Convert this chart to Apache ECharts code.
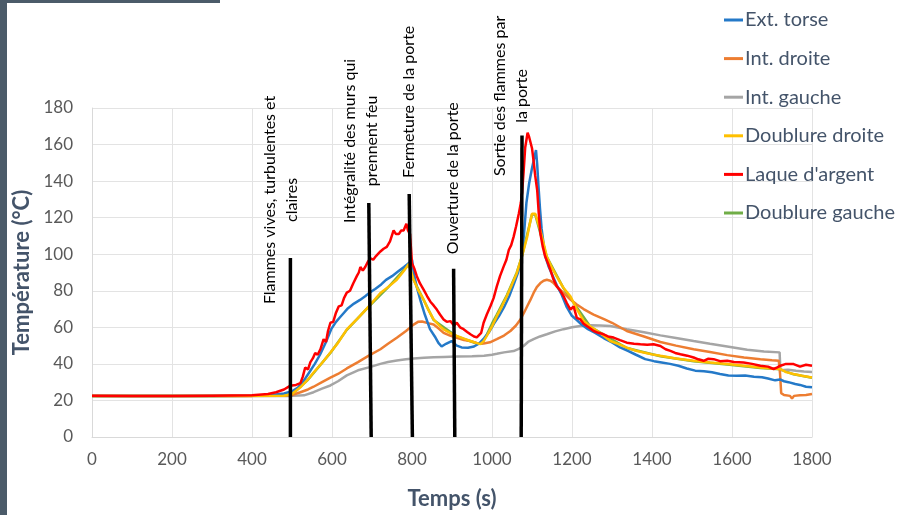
<!DOCTYPE html>
<html><head><meta charset="utf-8">
<script src="https://cdn.jsdelivr.net/npm/echarts@6/dist/echarts.min.js"></script>
<style>html,body{margin:0;padding:0;background:#fff}#c{width:899px;height:515px}</style>
</head><body><div id="c"></div>
<script>
// ---- DATA ----
const seriesNames = ['Ext. torse', 'Int. droite', 'Int. gauche', 'Doublure droite', "Laque d'argent", 'Doublure gauche'];

const extTorse = [[0,22.5],[100,22.4],[200,22.5],[300,22.4],[400,22.6],[450,23],[480,23.8],[500,25],[515,27],[530,31],[545,36],[557,40],[570,45],[585,52],[598,59],[610,63],[620,65.5],[630,68],[640,70.5],[655,73],[670,75],[683,77],[694,79],[708,81],[723,83.5],[735,86],[750,88],[765,90.5],[780,93],[794,95.5],[800,97],[805,89],[812,82],[822,74],[832,67],[845,59],[857,55],[866,51.5],[874,49.5],[885,51],[899,52.5],[912,50],[924,49],[940,48.8],[955,49.5],[967,51],[980,54],[993,57.5],[1005,62],[1017,66],[1030,71],[1043,77],[1055,84],[1065,90],[1074,98],[1080,111],[1086,128],[1093,139],[1100,147],[1106,153],[1110,157],[1113,149],[1116,138],[1120,125],[1124,114],[1133,99],[1142,93],[1150,89],[1162,83],[1174,78],[1187,71],[1199,66.5],[1212,64],[1224,61.5],[1240,59],[1258,57],[1280,54],[1300,51.7],[1320,49],[1341,47],[1360,45],[1383,42.6],[1405,41.5],[1424,40.8],[1445,40],[1466,39],[1487,37.5],[1508,36.3],[1530,36],[1550,35.4],[1570,34.5],[1591,33.6],[1612,33.5],[1633,33.6],[1655,33],[1675,32.7],[1690,32],[1708,31],[1720,31.5],[1730,30.5],[1741,30],[1758,29],[1770,28.5],[1785,27.5],[1800,27.2]];

const intDroite = [[0,22.5],[200,22.5],[400,22.5],[480,22.6],[500,23],[521,24.5],[540,26],[554,27.5],[575,30],[596,32.5],[615,34.5],[637,37.5],[665,41],[692,44.5],[721,48],[740,51],[762,54.3],[785,58],[804,61.5],[815,63],[825,63.2],[840,62.3],[854,61.6],[866,59.5],[879,57],[895,55.5],[912,54.3],[930,53],[946,52.5],[962,51.5],[979,51.1],[995,51.8],[1012,53.5],[1030,55.5],[1046,58],[1060,61],[1071,64.3],[1080,68],[1088,71.5],[1096,75],[1104,78.8],[1112,82],[1121,84.2],[1129,85.5],[1137,86],[1146,85.5],[1154,84.2],[1166,81.5],[1179,78.8],[1196,75.2],[1212,72.5],[1229,70],[1246,67.9],[1254,67],[1280,64.5],[1300,62.5],[1337,58],[1380,55],[1421,52],[1460,50],[1504,48],[1545,46.5],[1588,44.8],[1630,43.5],[1671,42.6],[1700,42],[1717,41.7],[1720,35],[1723,24],[1730,23],[1745,22.5],[1750,21],[1755,22.5],[1770,22.8],[1785,23],[1800,23.5]];

const intGauche = [[0,22.5],[300,22.5],[500,22.5],[530,22.8],[554,24.5],[575,26.5],[596,28.2],[615,30.5],[637,33.7],[665,36.5],[692,38.1],[721,40],[740,41],[762,41.8],[785,42.5],[804,43],[830,43.4],[854,43.6],[880,43.8],[912,44],[950,44.2],[980,44.5],[1000,45],[1012,45.5],[1030,46.3],[1054,47],[1067,48.2],[1079,49.8],[1090,52],[1104,53.5],[1120,55],[1137,56.2],[1158,57.8],[1179,59],[1200,60],[1221,60.7],[1246,61.2],[1270,61],[1296,60.7],[1337,59],[1380,57.3],[1421,55.6],[1460,54.2],[1504,52.5],[1545,51],[1588,49.5],[1638,47.7],[1680,46.8],[1719,46.3],[1721,36.5],[1740,36.8],[1760,36.2],[1780,35.8],[1800,35.5]];

const doublureDroite = [[0,22.5],[300,22.5],[480,22.6],[500,23.5],[521,27.2],[540,31.5],[554,35.3],[575,40.5],[596,46.2],[615,51.5],[637,58.9],[665,65],[692,71.5],[721,78.8],[740,82],[762,86],[780,91],[792,94.7],[797,95],[804,86],[815,80.5],[829,75.2],[841,69.5],[854,64.3],[866,61.5],[879,58.9],[895,57],[912,55.3],[930,53.8],[946,52.5],[960,51.5],[971,50.8],[979,52.5],[987,55.3],[1000,60.5],[1012,66.1],[1025,71.5],[1037,77],[1050,83.5],[1062,89.6],[1075,99],[1088,109.5],[1094,116],[1100,122.2],[1104,123],[1108,122.2],[1114,118],[1121,113],[1129,106],[1137,98.7],[1150,92.5],[1162,87.8],[1179,81.5],[1196,77],[1212,70],[1229,63.5],[1246,60.5],[1270,57],[1296,52.5],[1320,50.5],[1337,48.9],[1360,47.2],[1379,46.2],[1400,45.2],[1421,44.4],[1460,43],[1504,41.7],[1545,40.8],[1588,39.9],[1630,39],[1671,38],[1700,37.5],[1721,37.2],[1735,35.5],[1754,34.5],[1775,33.5],[1800,32.6]];

const laqueArgent = [[0,22.6],[100,22.5],[200,22.4],[300,22.6],[400,22.8],[440,23.5],[460,24.5],[480,26],[495,28],[510,28.5],[521,29.5],[527,33],[533,38],[540,37],[546,41],[552,43],[558,46],[564,45],[571,48],[579,53.5],[585,52],[590,58],[596,62.5],[603,63],[610,68],[617,71.5],[624,72],[630,76],[637,79],[645,80],[653,84],[662,88],[667,90],[671,93],[677,91],[683,93],[690,96],[696,97.7],[703,97],[710,99],[721,101.5],[729,103],[737,104],[745,107],[754,113],[760,111],[767,111],[773,113],[779,113],[786,116.7],[790,113],[795,111],[800,95],[806,92],[812,88],[820,84],[829,80.6],[838,77],[846,74],[854,72],[862,69.7],[870,67],[879,64.3],[887,63],[896,63.4],[905,61],[912,62.5],[920,60],[929,59],[938,57.5],[946,56.2],[955,55],[962,54.5],[967,54.3],[973,57],[979,62.5],[987,67],[996,71.5],[1004,76],[1012,82.4],[1020,88],[1029,93.2],[1036,97],[1042,102.3],[1048,105],[1054,109.5],[1060,115],[1067,122.2],[1072,128],[1075,133],[1079,145],[1083,158.4],[1089,166.5],[1093,164],[1096,163.8],[1100,158],[1104,151],[1108,143],[1113,135],[1117,122],[1121,111.3],[1127,104],[1133,98.7],[1140,95],[1146,91.4],[1154,86],[1162,82.4],[1171,80],[1179,77],[1187,73.3],[1196,69.7],[1204,71.5],[1212,65.2],[1221,64.3],[1229,62],[1237,60.7],[1245,59.5],[1254,58],[1266,57],[1279,56.2],[1290,55],[1304,54.4],[1320,53],[1337,51.6],[1355,51],[1371,50.7],[1388,50.5],[1404,50.7],[1421,49.8],[1434,48],[1446,47.1],[1458,46],[1471,45.3],[1488,44.5],[1504,43.5],[1516,42.5],[1529,41.7],[1541,42.8],[1554,42.6],[1570,41.5],[1588,41.7],[1605,41],[1629,40.8],[1650,40],[1671,39],[1690,38.5],[1704,37.2],[1712,38],[1721,39],[1735,40],[1754,39.9],[1770,38.5],[1785,39.5],[1800,39]];

const doublureGauche = [[0,22.5],[480,22.6],[500,23.4],[540,31.3],[596,46],[637,58.6],[692,71.3],[740,81.8],[792,94.5],[804,86],[854,64],[912,55],[960,51.3],[975,51],[987,56],[1000,62],[1012,67],[1025,72.5],[1037,77.5],[1050,84],[1062,90],[1075,99],[1100,121.8],[1108,121.8],[1137,98.5],[1179,81.3],[1246,60.3],[1337,48.7],[1421,44.2],[1504,41.5],[1588,39.7],[1671,37.8],[1721,37],[1754,34.3],[1800,32.4]];

// event markers (time at bottom, time at top, temperature at top)
const eventBottomT = [496, 698, 801, 907, 1073];
const eventTopT = [496, 692, 793, 904, 1075];
const eventTopV = [98, 128, 133, 92, 165];
const eventLabels = ['Flammes vives, turbulentes et\nclaires', 'Intégralité des murs qui\nprennent feu', 'Fermeture de la porte', 'Ouverture de la porte', 'Sortie des flammes par\nla porte'];
const eventLabelT = [473, 673, 793, 903, 1046];
const eventLabelV = [129.7, 162, 183.4, 141.6, 186.6];

const xTicks = [0, 1800, 200];
const yTicks = [0, 180, 20];

// ---- CHART ----
const FONT = 'Lato, "Open Sans", sans-serif';
const colors = {
  'Ext. torse': '#2479c8', 'Int. droite': '#ed7d31', 'Int. gauche': '#a5a5a5',
  'Doublure droite': '#ffc000', "Laque d'argent": '#ff0000', 'Doublure gauche': '#70ad47'
};
const dataMap = {
  'Ext. torse': extTorse, 'Int. droite': intDroite, 'Int. gauche': intGauche,
  'Doublure droite': doublureDroite, "Laque d'argent": laqueArgent, 'Doublure gauche': doublureGauche
};
const drawOrder = ['Doublure gauche', 'Int. gauche', 'Int. droite', 'Ext. torse', 'Doublure droite', "Laque d'argent"];

const series = drawOrder.map((n, i) => ({
  name: n, type: 'line', data: dataMap[n], showSymbol: false, symbol: 'none',
  lineStyle: { color: colors[n], width: 2.5 }, itemStyle: { color: colors[n] },
  z: 2 + i, animation: false
}));
eventBottomT.forEach((t, i) => {
  series.push({
    type: 'line', data: [[t, 0], [eventTopT[i], eventTopV[i]]], symbol: 'none',
    lineStyle: { color: '#000', width: 3.5 }, z: 20, silent: true, animation: false
  });
});

const axisCommon = {
  type: 'value',
  axisLine: { show: true, lineStyle: { color: '#d9d9d9', width: 1 } },
  axisTick: { show: false },
  axisLabel: { color: '#595959', fontSize: 17, fontFamily: FONT, formatter: v => String(v) },
  splitLine: { show: true, lineStyle: { color: '#e3e3e3', width: 1 } },
  nameLocation: 'middle',
  nameTextStyle: { fontSize: 22, fontWeight: 'bold', color: '#44546a', fontFamily: FONT }
};

const chart = echarts.init(document.getElementById('c'), null, { renderer: 'canvas' });
chart.setOption({
  backgroundColor: '#fff',
  animation: false,
  grid: { left: 92, right: 87, top: 108, bottom: 75 },
  xAxis: Object.assign({}, axisCommon, { min: xTicks[0], max: xTicks[1], interval: xTicks[2], name: 'Temps (s)', nameGap: 51,
    axisLabel: Object.assign({}, axisCommon.axisLabel, { margin: 14 }) }),
  yAxis: Object.assign({}, axisCommon, { min: yTicks[0], max: yTicks[1], interval: yTicks[2], name: 'Température (°C)', nameGap: 57,
    axisLabel: Object.assign({}, axisCommon.axisLabel, { margin: 19 }) }),
  legend: {
    data: seriesNames, orient: 'vertical', left: 719, top: 5, itemWidth: 19, itemHeight: 3, icon: 'rect',
    itemGap: 18.6, textStyle: { fontSize: 20, color: '#44546a', fontFamily: FONT, padding: [0, 0, 0, -3] },
    selectedMode: false
  },
  series: series
});

const gfx = [
  { type: 'rect', shape: { x: 0, y: 0, width: 7, height: 515 }, style: { fill: '#4b5b69' }, z: 100 },
  { type: 'rect', shape: { x: 0, y: 0, width: 220, height: 3 }, style: { fill: '#4b5b69' }, z: 100 }
];
eventLabels.forEach((txt, i) => {
  const p = chart.convertToPixel({ xAxisIndex: 0, yAxisIndex: 0 }, [eventLabelT[i], eventLabelV[i]]);
  gfx.push({
    type: 'text', x: p[0], y: p[1], rotation: Math.PI / 2, z: 50,
    style: { text: txt, fill: '#000', font: '16px ' + FONT, align: 'center', verticalAlign: 'middle', lineHeight: 22 }
  });
});
chart.setOption({ graphic: gfx });
</script></body></html>
